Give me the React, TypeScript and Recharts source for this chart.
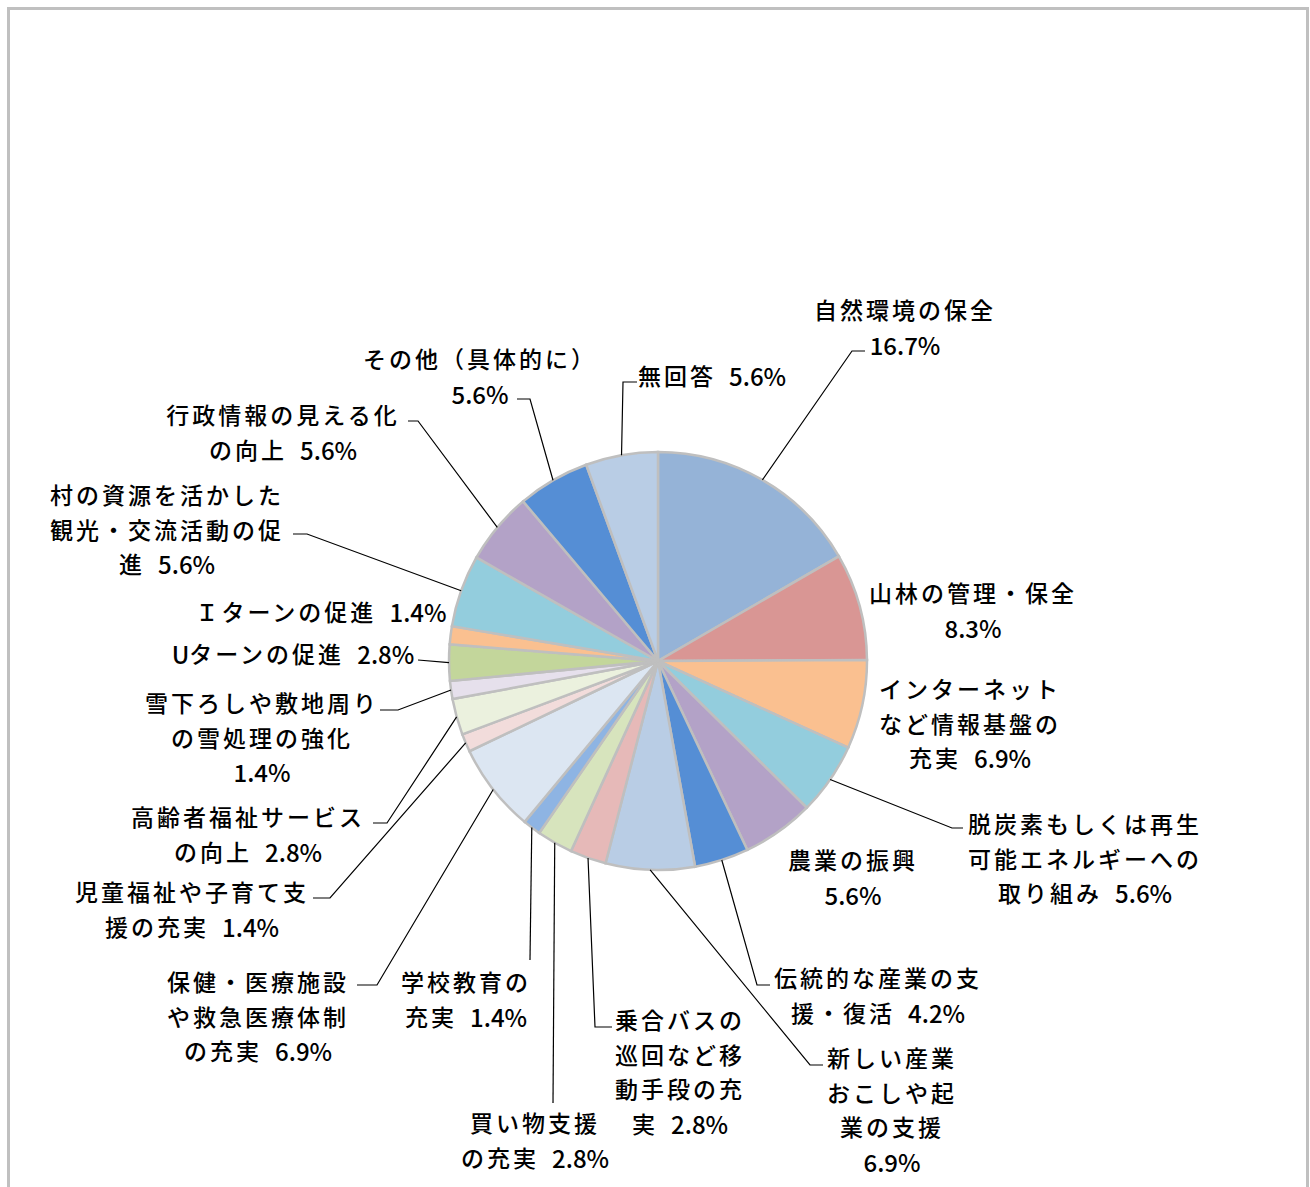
import React from 'react';
import { PieChart, Pie, Cell } from 'recharts';

// answer categories, "\n" = where the label wraps
const categories = [
  '自然環境の保全',
  '山林の管理・保全',
  'インターネット\nなど情報基盤の\n充実',
  '脱炭素もしくは再生\n可能エネルギーへの\n取り組み',
  '農業の振興',
  '伝統的な産業の支\n援・復活',
  '新しい産業\nおこしや起\n業の支援',
  '乗合バスの\n巡回など移\n動手段の充\n実',
  '買い物支援\nの充実',
  '学校教育の\n充実',
  '保健・医療施設\nや救急医療体制\nの充実',
  '児童福祉や子育て支\n援の充実',
  '高齢者福祉サービス\nの向上',
  '雪下ろしや敷地周り\nの雪処理の強化',
  'Uターンの促進',
  'Ｉターンの促進',
  '村の資源を活かした\n観光・交流活動の促\n進',
  '行政情報の見える化\nの向上',
  'その他（具体的に）',
  '無回答',
];
const values = [16.7, 8.3, 6.9, 5.6, 5.6, 4.2, 6.9, 2.8, 2.8, 1.4, 6.9, 1.4, 2.8, 1.4, 2.8, 1.4, 5.6, 5.6, 5.6, 5.6];
// percentage printed on its own line?
const pctOwnLine = [true, true, false, false, true, false, true, false, false, false, false, false, false, true, false, false, false, false, true, false];

const colors = [
  '#95B3D7', '#D99694', '#FAC090', '#93CDDD', '#B3A2C7', '#558ED5', '#B9CDE5', '#E6B9B8', '#D7E4BD', '#8EB4E3',
  '#DCE6F2', '#F2DCDB', '#EBF1DE', '#E6E0EC', '#C3D69B', '#FAC090', '#93CDDD', '#B3A2C7', '#558ED5', '#B9CDE5',
];

// label placement (page px): centre x, first line y, leader bend points after the slice edge
const labelPos: { x: number; y: number; lead?: number[][] }[] = [
  { x: 904, y: 309, lead: [[852, 351], [865, 351]] },
  { x: 972, y: 592 },
  { x: 969, y: 688 },
  { x: 1084, y: 823, lead: [[952, 828], [963, 828]] },
  { x: 852, y: 859 },
  { x: 877, y: 977, lead: [[757, 985], [770, 985]] },
  { x: 891, y: 1057, lead: [[810, 1065], [823, 1065]] },
  { x: 679, y: 1019, lead: [[595, 1027], [612, 1027]] },
  { x: 534, y: 1122, lead: [[553, 1103]] },
  { x: 465, y: 981, lead: [[530, 960]] },
  { x: 257, y: 981, lead: [[377, 985], [357, 985]] },
  { x: 191, y: 891, lead: [[330, 898], [313, 898]] },
  { x: 247, y: 816, lead: [[387, 823], [373, 823]] },
  { x: 261, y: 702, lead: [[398, 710], [380, 710]] },
  { x: 292, y: 653, lead: [[418, 660]] },
  { x: 320, y: 611 },
  { x: 166, y: 494, lead: [[307, 534], [293, 534]] },
  { x: 282, y: 414, lead: [[418, 421], [408, 421]] },
  { x: 479, y: 358, lead: [[530, 399], [517, 399]] },
  { x: 711, y: 375, lead: [[623, 382], [637, 382]] },
];

const data = categories.map((c, i) => ({ name: c.replace(/\n/g, ''), value: values[i] }));

const RAD = Math.PI / 180;
const LINE_H = 34.5;
const FONT = '"Noto Sans CJK JP", "Noto Sans CJK SC", sans-serif';

// split a line into runs so half-width and full-width glyphs get their own sizing
const runs = (s: string) => {
  const out: { t: string; kind: string }[] = [];
  for (const ch of s) {
    const kind = ch === ' ' ? 'sp' : /[\x21-\x7e]/.test(ch) ? 'asc' : 'cjk';
    const last = out[out.length - 1];
    if (last && last.kind === kind) last.t += ch;
    else out.push({ t: ch, kind });
  }
  return out;
};
const runStyle: Record<string, { fontSize: number; letterSpacing: number }> = {
  cjk: { fontSize: 23, letterSpacing: 3 },
  asc: { fontSize: 24, letterSpacing: 0 },
  sp: { fontSize: 23, letterSpacing: 8 },
};

const renderLabel = (props: any) => {
  const { cx, cy, midAngle, outerRadius, index } = props;
  const pos = labelPos[index];
  const pct = values[index].toFixed(1) + '%';
  const lines = categories[index].split('\n');
  if (pctOwnLine[index]) lines.push(pct);
  else lines[lines.length - 1] += ' ' + pct;

  const ex = cx + outerRadius * Math.cos(-midAngle * RAD);
  const ey = cy + outerRadius * Math.sin(-midAngle * RAD);
  const pts = pos.lead ? [[ex, ey], ...pos.lead] : null;

  return (
    <g key={`lbl-${index}`}>
      {pts && (
        <polyline points={pts.map((p) => p.join(',')).join(' ')} fill="none" stroke="#000" strokeWidth={1.2} />
      )}
      {lines.map((ln, li) => (
        <text
          key={li}
          x={pos.x + 1}
          y={pos.y + li * LINE_H}
          textAnchor="middle"
          dominantBaseline="central"
          fontFamily={FONT}
          fontWeight={500}
          fill="#000"
        >
          {runs(ln).map((r, ri) => (
            <tspan key={ri} fontSize={runStyle[r.kind].fontSize} letterSpacing={runStyle[r.kind].letterSpacing}>
              {r.t}
            </tspan>
          ))}
        </text>
      ))}
    </g>
  );
};

export default function App() {
  return (
    <div style={{ position: 'absolute', left: 0, top: 0, width: 1310, height: 1187, overflow: 'hidden', background: '#fff' }}>
      <div
        style={{
          position: 'absolute', left: 7, top: 7, width: 1302, height: 1220,
          border: '3px solid #C0C0C0', boxSizing: 'border-box',
        }}
      />
      <div style={{ position: 'absolute', left: 0, top: 0 }}>
        <PieChart width={1310} height={1187} margin={{ top: 0, right: 0, bottom: 0, left: 0 }}>
          <Pie
            data={data}
            dataKey="value"
            nameKey="name"
            cx={658}
            cy={661}
            outerRadius={209}
            startAngle={90}
            endAngle={-270}
            stroke="#BFBFBF"
            strokeWidth={2.5}
            label={renderLabel}
            labelLine={false}
            isAnimationActive={false}
          >
            {data.map((entry, i) => (
              <Cell key={`cell-${i}`} fill={colors[i]} />
            ))}
          </Pie>
        </PieChart>
      </div>
    </div>
  );
}
